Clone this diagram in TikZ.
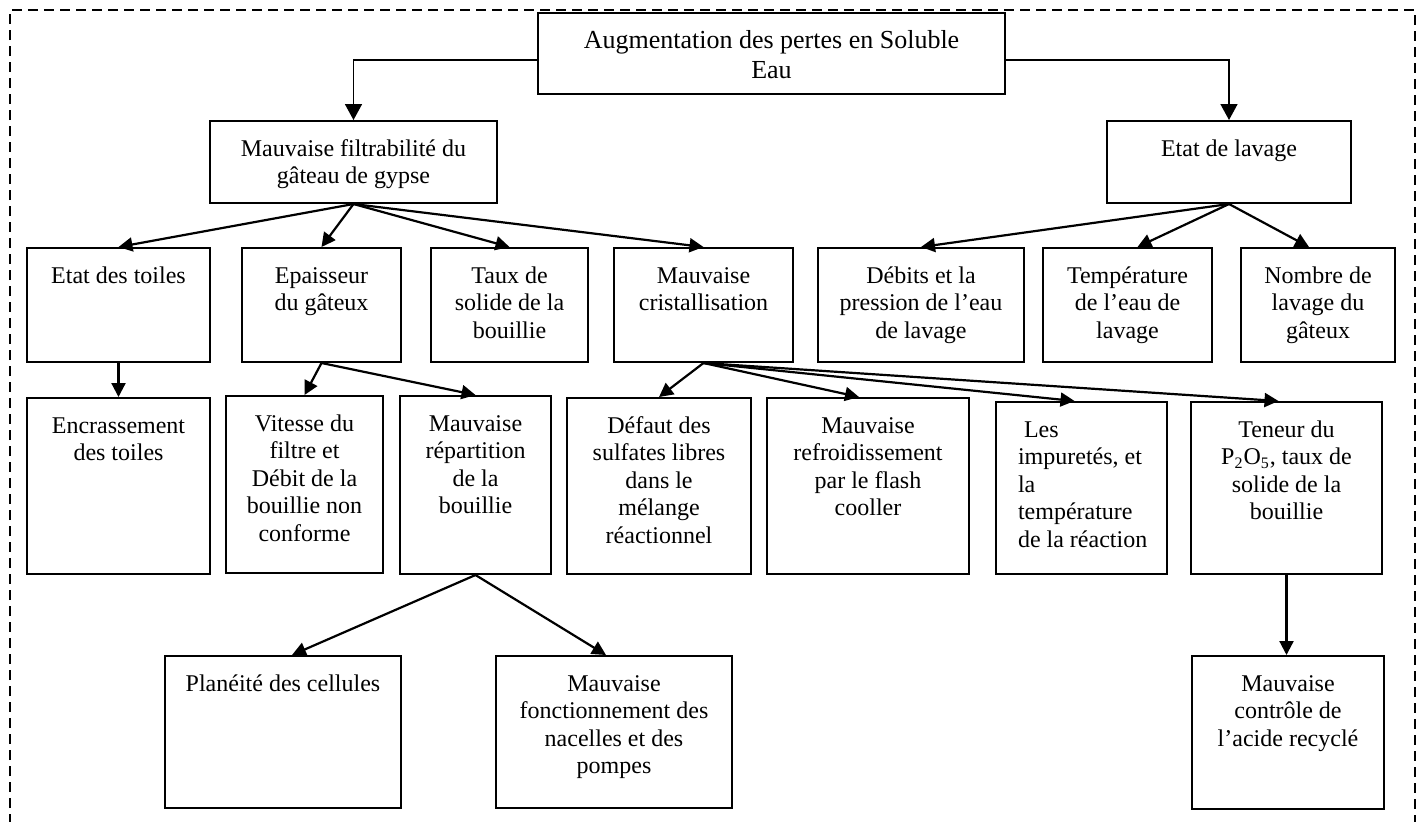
\documentclass[tikz,border=0pt]{standalone}
\usepackage{fontspec}
\setmainfont{Liberation Serif}
\usetikzlibrary{arrows.meta}

% boxed cause: [alignment]{name}{x1}{y1}{x2}{y2}{text}, text hung from the top edge
\newcommand\causebox[7][\centering]{%
  \pgfmathsetmacro\bw{0.5*(#5-#3)}%
  \pgfmathsetmacro\bh{0.5*(#6-#4)}%
  \node[box,anchor=north west] (#2) at (#3,#4)
    {\parbox[c][\bh pt][t]{\bw pt}{#1\rule{0pt}{17.5pt}#7\par}};%
}

\tikzset{
  box/.style={draw, line width=1pt, inner sep=0pt, font=\fontsize{12}{13.8}\selectfont},
  link/.style={line width=0.8pt, -{Triangle[length=8pt,width=8.5pt]}},
  arr/.style={line width=1.1pt, -{Triangle[length=7pt,width=7pt]}},
  frame/.style={line width=1pt, dash pattern=on 5pt off 3pt}
}

\begin{document}
\begin{tikzpicture}[x=0.5pt, y=-0.5pt]
\useasboundingbox (0,0) rectangle (1419,821);

% dashed surround
\begin{scope}
  \clip (0,0) rectangle (1419,821);
  \draw[frame] (10,840) -- (10,10) -- (1415,10) -- (1415,840);
\end{scope}

% level 0
\causebox[\centering\fontsize{13}{15}\selectfont]{top}{537}{12}{1004}{93}{Augmentation des pertes en Soluble\\Eau}

% level 1
\causebox{mf}{209}{120}{496}{202}{Mauvaise filtrabilité du\\gâteau de gypse}
\causebox{el}{1106}{120}{1350}{202}{Etat de lavage}

% level 2
\causebox{et}{26}{247}{209}{361}{Etat des toiles}
\causebox{ep}{241}{247}{400}{361}{Epaisseur\\du gâteux}
\causebox{ts}{430}{247}{587}{361}{Taux de\\solide de la\\bouillie}
\causebox{mc}{613}{247}{792}{361}{Mauvaise\\cristallisation}
\causebox{db}{817}{247}{1023}{361}{Débits et la\\pression de l’eau\\de lavage}
\causebox{te}{1042}{247}{1211}{361}{Température\\de l’eau de\\lavage}
\causebox{nb}{1240}{247}{1394}{361}{Nombre de\\lavage du\\gâteux}

% level 3
\causebox{en}{26}{397}{209}{573}{Encrassement\\des toiles}
\causebox{vi}{225}{395}{382}{572}{Vitesse du\\filtre et\\Débit de la\\bouillie non\\conforme}
\causebox{mr}{399}{395}{550}{573}{Mauvaise\\répartition\\de la\\bouillie}
\causebox{df}{566}{397}{750}{573}{Défaut des\\sulfates libres\\dans le\\mélange\\réactionnel}
\causebox{rf}{766}{397}{968}{573}{Mauvaise\\refroidissement\\par le flash\\cooller}
\causebox[\raggedright\leftskip=11pt]{im}{995}{401}{1166}{573}{\ Les\\impuretés, et\\la\\température\\de la réaction}
\causebox{tn}{1190}{401}{1381}{573}{Teneur du\\P\textsubscript{2}O\textsubscript{5}, taux de\\solide de la\\bouillie}

% level 4
\causebox{pl}{164}{655}{400}{807}{Planéité des cellules}
\causebox{fc}{495}{655}{731}{807}{Mauvaise\\fonctionnement des\\nacelles et des\\pompes}
\causebox{ac}{1191}{655}{1383}{808}{Mauvaise\\contrôle de\\l’acide recyclé}

% connectors
\draw[link] ([yshift=-3.25pt]top.west) -| (mf.north);
\draw[link] ([yshift=-3.25pt]top.east) -| (el.north);

\draw[arr] (mf.south) -- (et.north);
\draw[arr] (mf.south) -- (ep.north);
\draw[arr] (mf.south) -- (ts.north);
\draw[arr] (mf.south) -- (mc.north);

\draw[arr] (el.south) -- (db.north);
\draw[arr] (el.south) -- ([xshift=5pt]te.north);
\draw[arr] (el.south) -- ([xshift=-4.5pt]nb.north);

\draw[arr] (et.south) -- (en.north);
\draw[arr] (ep.south) -- (vi.north);
\draw[arr] (ep.south) -- (mr.north);

\draw[arr] (mc.south) -- (df.north);
\draw[arr] (mc.south) -- ([xshift=-4.5pt]rf.north);
\draw[arr] (mc.south) -- ([xshift=-3.5pt]im.north);
\draw[arr] (mc.south) -- ([xshift=-4pt]tn.north);

\draw[arr] (mr.south) -- ([xshift=4.5pt]pl.north);
\draw[arr] (mr.south) -- ([xshift=-4pt]fc.north);
\draw[arr] (tn.south) -- (tn.south |- ac.north);
\end{tikzpicture}
\end{document}
